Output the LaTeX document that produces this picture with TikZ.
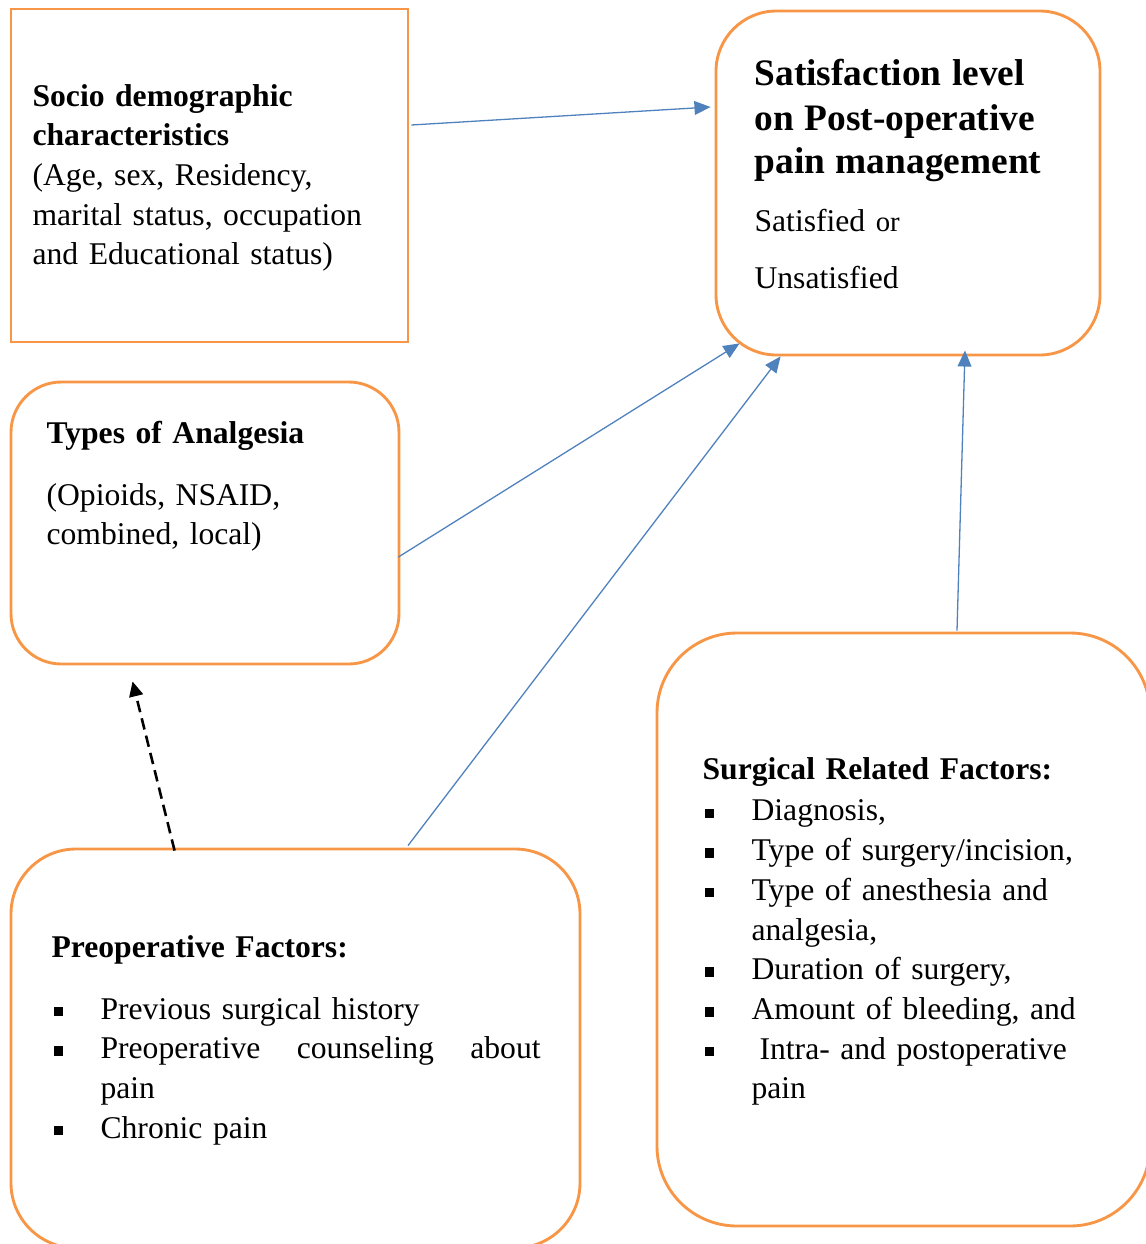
\documentclass[tikz,border=0pt]{standalone}
\usepackage{fontspec}
\setmainfont[Ligatures={TeX,NoCommon}]{Liberation Serif}
\usetikzlibrary{arrows.meta}
\definecolor{boxorange}{HTML}{F79646}
\definecolor{linkblue}{HTML}{4F81BD}
\newdimen\pxu \pxu=0.3478pt
\newcommand{\bul}{\rule[1pt]{3.3pt}{3.3pt}}
\newcommand{\itm}[1]{\hspace*{2\pxu}\makebox[47\pxu][l]{\bul}#1}
\begin{document}
\begin{tikzpicture}[x=\pxu, y=-\pxu,
  box/.style={draw=boxorange, line width=1pt, inner sep=0pt},
  txt/.style={anchor=base west, inner sep=0pt, align=left, text width=420*\pxu,
    font=\fontsize{11}{13.8}\selectfont},
  link/.style={draw=linkblue, line width=0.45pt, -{Triangle[length=5.6pt,width=4.8pt]}}]
\useasboundingbox (0,0) rectangle (1145,1244);

\node[box, minimum width=397*\pxu, minimum height=333*\pxu] (socio) at (209.5,175.5) {};
\node[box, rounded corners=21pt, minimum width=384*\pxu, minimum height=344*\pxu] (sat) at (908,183) {};
\node[box, rounded corners=17.5pt, minimum width=388*\pxu, minimum height=282*\pxu] (types) at (205,523) {};
\node[box, rounded corners=27.8pt, minimum width=493*\pxu, minimum height=593*\pxu] (surg) at (903.5,929.5) {};
\node[box, rounded corners=22.6pt, minimum width=569*\pxu, minimum height=399*\pxu] (preop) at (295.5,1048.5) {};

\node[txt] (socio-txt) at (32,106) {{\bfseries Socio demographic\\characteristics}\\(Age, sex, Residency,\\marital status, occupation\\and Educational status)};
\node[txt] (sat-txt) at (754,85) {{\fontsize{13}{15}\selectfont\bfseries Satisfaction level\\[0.97pt]on Post-operative\\[0.97pt]pain management}\\[6.5pt]Satisfied {\fontsize{10}{12}\selectfont or}\\[6pt]Unsatisfied};
\node[txt] (types-txt) at (46,443) {{\bfseries Types of Analgesia}\\[7.8pt](Opioids, NSAID,\\combined, local)};
\node[txt] (surg-txt) at (702,779) {{\bfseries Surgical Related Factors:}\\[0.8pt]\itm{Diagnosis,}\\\itm{Type of surgery/incision,}\\\itm{Type of anesthesia and}\\\hspace*{49\pxu}analgesia,\\\itm{Duration of surgery,}\\\itm{Amount of bleeding, and}\\\itm{\hspace*{8\pxu}Intra- and postoperative}\\\hspace*{49\pxu}pain};
\node[txt, text width=500*\pxu] (preop-txt) at (51,957) {{\bfseries Preoperative Factors:}\\[7.8pt]\itm{Previous surgical history}\\\itm{\makebox[440\pxu][s]{Preoperative\hfill counseling\hfill about}}\\\hspace*{49\pxu}pain\\\itm{Chronic pain}};

\draw[link] ([shift={(2,-50.5)}]socio.east) -- ([shift={(-4,-76)}]sat.west);
\draw[link] ([shift={(-2,34)}]types.east) -- ([shift={(25,-13)}]sat.south west);
\draw[link] ([shift={(112.5,-2)}]preop.north) -- ([shift={(66,0)}]sat.south west);
\draw[link] ([shift={(53.5,-1)}]surg.north) -- ([shift={(57,-6)}]sat.south);
\draw[line width=0.9pt, dash pattern=on 4pt off 2.2pt, -{Triangle[length=5.2pt,width=4.8pt]}]
  ([shift={(165,3)}]preop.north west) -- ([shift={(123,16)}]types.south west);
\end{tikzpicture}
\end{document}
